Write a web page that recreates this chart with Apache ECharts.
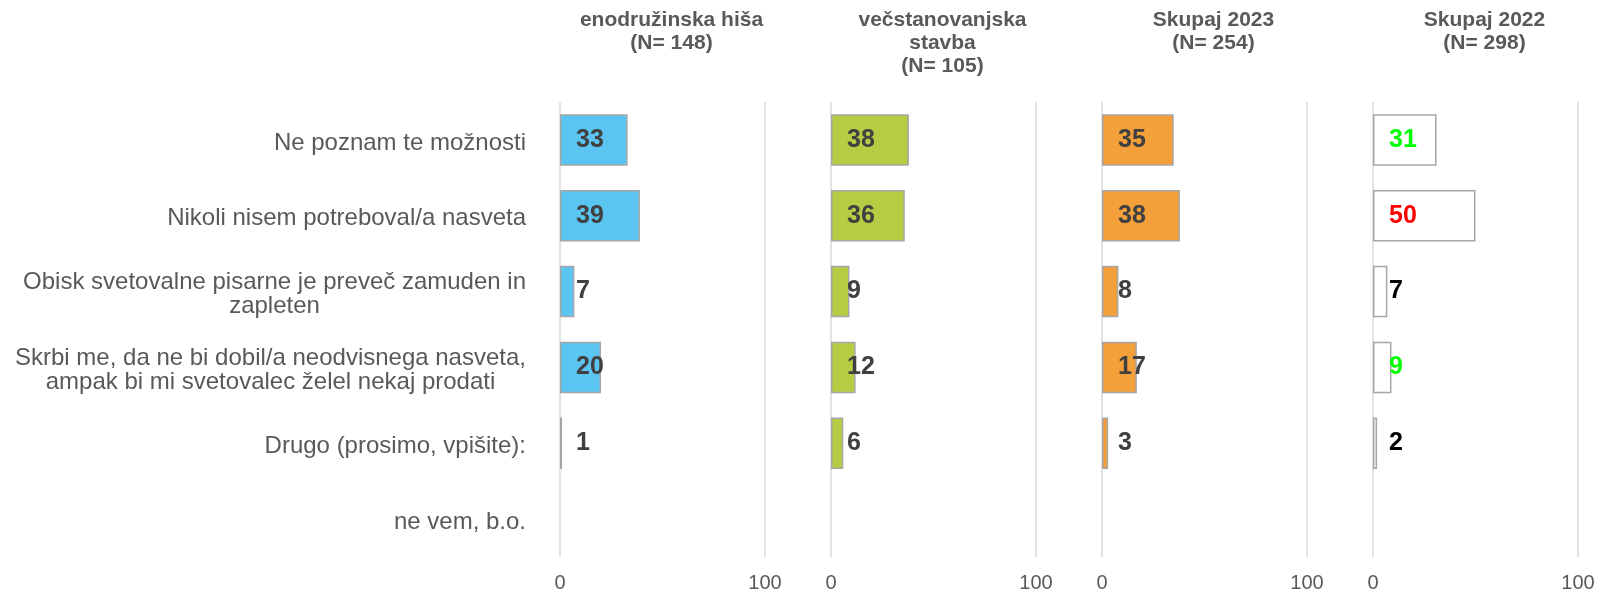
<!DOCTYPE html>
<html>
<head>
<meta charset="utf-8">
<script src="https://cdn.jsdelivr.net/npm/echarts@6/dist/echarts.min.js"></script>
<style>html, body { margin: 0; padding: 0; background: #fff; } #main { width: 1599px; height: 593px; }</style>
</head>
<body>
<div id="main"></div>
<script>
// categories (top to bottom)
var categories = [
    'Ne poznam te možnosti',
    'Nikoli nisem potreboval/a nasveta',
    'Obisk svetovalne pisarne je preveč zamuden in zapleten',
    'Skrbi me, da ne bi dobil/a neodvisnega nasveta, ampak bi mi svetovalec želel nekaj prodati',
    'Drugo (prosimo, vpišite):',
    'ne vem, b.o.'
];
var panelTitles = [
    'enodružinska hiša\n(N= 148)',
    'večstanovanjska\nstavba\n(N= 105)',
    'Skupaj 2023\n(N= 254)',
    'Skupaj 2022\n(N= 298)'
];
var enodruzinska = [33, 39, 7, 20, 1, null];
var vecstanovanjska = [38, 36, 9, 12, 6, null];
var skupaj2023 = [35, 38, 8, 17, 3, null];
var skupaj2022 = [31, 50, 7, 9, 2, null];
var axisTicks = [0, 100];

// styles
var barColors = ['#5bc5f1', '#b4cd43', '#f4a03a', '#ffffff'];
var labelColors2022 = ['#00ff00', '#ff0000', '#000000', '#00ff00', '#000000', '#000000'];
var panelLeft = [560, 831, 1102, 1373];
var panelWidth = 205;
var allSeries = [enodruzinska, vecstanovanjska, skupaj2023, skupaj2022];

function wrap(text, maxLen) {
    var words = text.split(' '), lines = [], cur = '';
    words.forEach(function (w) {
        if (cur && (cur + ' ' + w).length > maxLen) { lines.push(cur); cur = w; }
        else { cur = cur ? cur + ' ' + w : w; }
    });
    lines.push(cur);
    return lines;
}

var myChart = echarts.init(document.getElementById('main'));

var grids = [], xAxes = [], yAxes = [], series = [], titles = [];
panelLeft.forEach(function (left, i) {
    grids.push({ left: left, width: panelWidth, top: 102, height: 461 });
    titles.push({
        text: panelTitles[i],
        left: left + panelWidth / 2 + 4,
        top: 4,
        textAlign: 'center',
        textStyle: { fontFamily: 'Liberation Sans', fontSize: 21, fontWeight: 'bold', color: '#595959', lineHeight: 23 }
    });
    xAxes.push({
        gridIndex: i, type: 'value', min: axisTicks[0], max: axisTicks[1], interval: 100,
        axisLine: { show: false }, axisTick: { show: false },
        splitLine: { show: true, lineStyle: { color: '#d9d9d9', width: 1.5 } },
        axisLabel: { margin: 16, fontFamily: 'Liberation Sans', fontSize: 20, color: '#595959' }
    });
    yAxes.push({
        gridIndex: i, type: 'category', data: categories, inverse: true,
        axisLine: { show: false }, axisTick: { show: false },
        axisLabel: {
            show: i === 0, margin: 34, padding: [6, 0, 0, 0],
            formatter: function (v) { return wrap(v, 47).map(function (l) { return '{c|' + l + '}'; }).join('\n'); },
            rich: { c: { align: 'center', fontFamily: 'Liberation Sans', fontSize: 24, color: '#595959', lineHeight: 24.5 } }
        }
    });
    series.push({
        type: 'bar', xAxisIndex: i, yAxisIndex: i,
        barCategoryGap: '32%',
        data: allSeries[i].map(function (v, j) {
            var item = { value: v };
            if (i === 3) item.label = { color: labelColors2022[j] };
            return item;
        }),
        itemStyle: { color: barColors[i], borderColor: '#a6a6a6', borderWidth: 1.5 },
        label: {
            show: true, position: 'insideLeft', distance: 16,
            fontFamily: 'Liberation Sans', fontSize: 25, fontWeight: 'bold', color: '#404040'
        }
    });
});

var option = {
    backgroundColor: '#fff',
    animation: false,
    title: titles,
    grid: grids,
    xAxis: xAxes,
    yAxis: yAxes,
    series: series
};
myChart.setOption(option);
</script>
</body>
</html>
